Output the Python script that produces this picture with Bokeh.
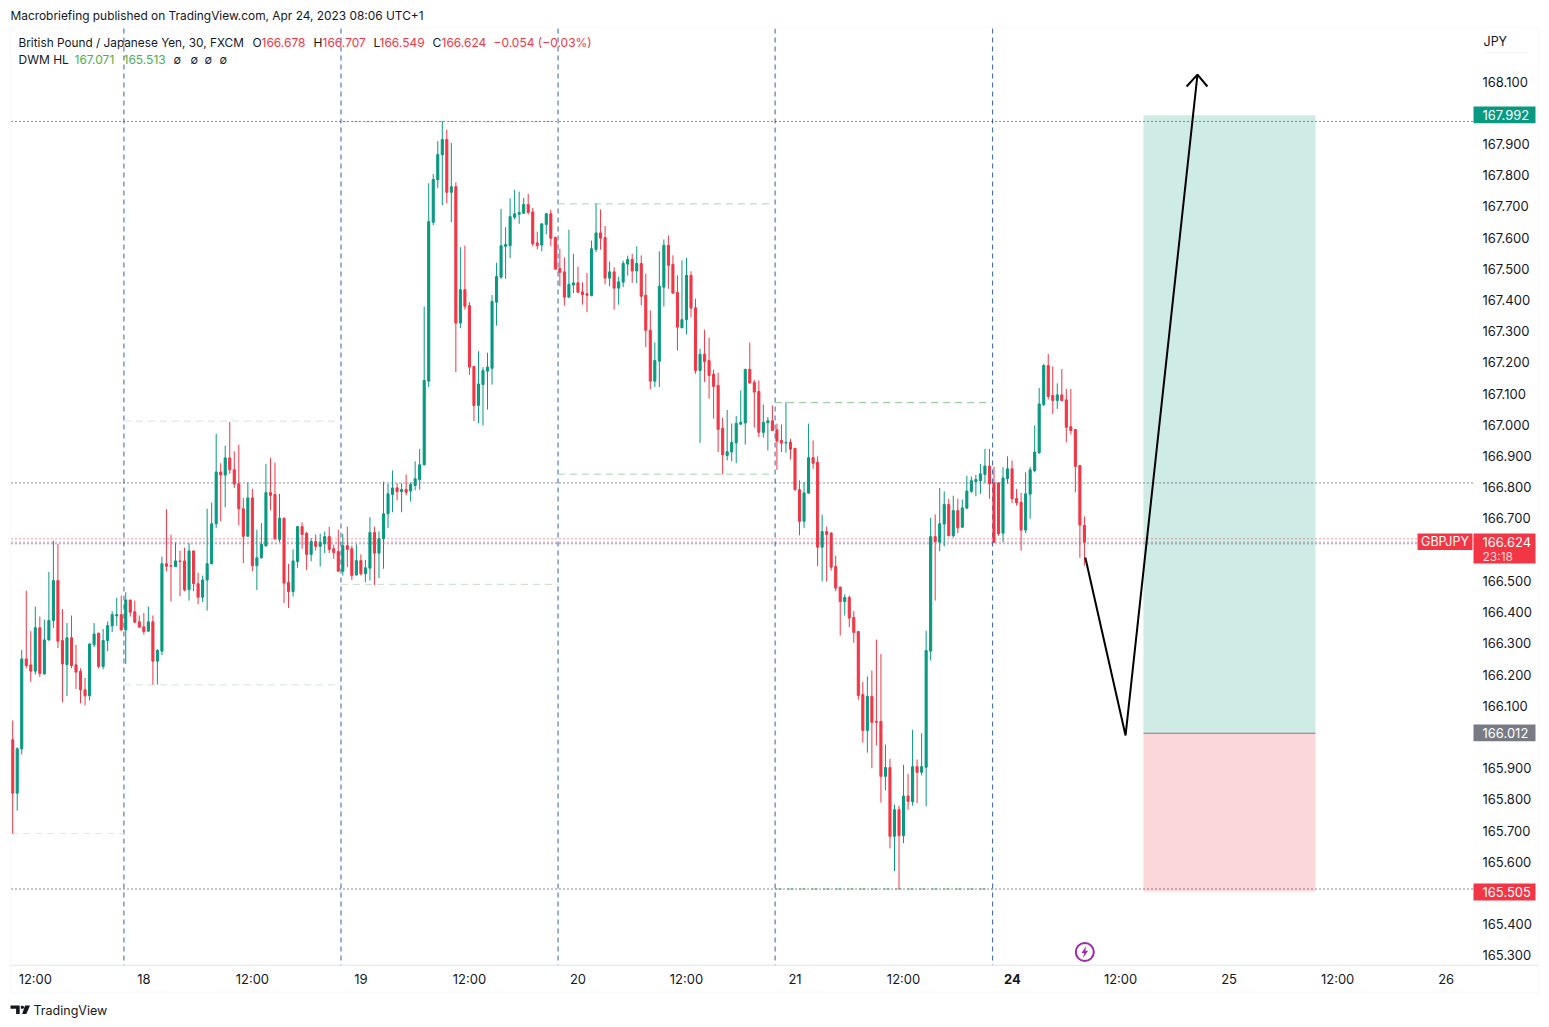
from bokeh.plotting import figure
from bokeh.models import (Range1d, LinearAxis, FixedTicker, Label, BoxAnnotation, PolyAnnotation,
                          NumeralTickFormatter)
from bokeh.embed import file_html
from bokeh.resources import INLINE

# ---- data -----------------------------------------------------------------------
opens = [
165.991,165.820,165.962,166.250,166.231,166.211,166.350,166.202,166.311,166.373,
166.501,166.309,166.232,166.318,166.231,166.210,166.151,166.132,166.296,166.333,
166.226,166.309,166.356,166.388,166.392,166.343,166.439,166.401,166.369,166.353,
166.339,166.369,166.243,166.275,166.555,166.549,166.546,166.564,166.564,166.472,
166.596,166.491,166.448,166.503,166.555,166.683,166.849,166.839,166.894,166.856,
166.811,166.731,166.643,166.766,166.549,166.574,166.612,166.783,166.777,166.633,
166.701,166.495,166.466,166.562,166.674,166.653,166.585,166.626,166.611,166.619,
166.642,166.603,166.594,166.531,166.613,166.603,166.519,166.565,166.523,166.541,
166.655,166.589,166.635,166.715,166.777,166.798,166.786,166.793,166.788,166.806,
166.825,166.872,167.140,167.649,167.785,167.865,167.914,167.745,167.763,167.326,
167.433,167.382,167.187,167.062,167.129,167.172,167.181,167.393,167.473,167.572,
167.574,167.665,167.675,167.678,167.706,167.682,167.583,167.576,167.642,167.676,
167.600,167.501,167.490,167.409,167.448,167.455,167.426,167.420,167.414,167.562,
167.615,167.600,167.470,167.490,167.438,167.457,167.515,167.530,167.493,167.517,
167.415,167.303,167.140,167.204,167.441,167.575,167.514,167.424,167.311,167.337,
167.479,167.375,167.174,167.226,167.206,167.162,167.126,166.989,166.902,166.913,
166.942,167.002,167.006,167.178,167.136,167.107,166.976,167.007,167.013,166.984,
166.950,166.942,166.944,166.925,166.792,166.691,166.781,166.895,166.880,166.608,
166.658,166.653,166.546,166.480,166.434,166.447,166.383,166.338,166.136,166.021,
166.130,166.050,166.050,165.874,165.902,165.682,165.767,165.684,165.811,165.793,
165.905,165.887,165.903,166.275,166.642,166.624,166.682,166.745,166.645,166.725,
166.672,166.733,166.787,166.818,166.821,166.841,166.868,166.814,166.814,166.653,
166.828,166.859,166.764,166.752,166.663,166.778,166.853,166.911,167.065,167.190,
167.094,167.078,167.096,167.080,166.994,166.985,166.870,166.678]
closes = [
165.820,165.962,166.250,166.229,166.211,166.350,166.204,166.311,166.373,166.501,
166.307,166.234,166.318,166.229,166.208,166.151,166.132,166.298,166.330,166.226,
166.309,166.357,166.392,166.392,166.343,166.439,166.400,166.368,166.352,166.338,
166.369,166.243,166.277,166.555,166.547,166.547,166.564,166.562,166.471,166.596,
166.491,166.448,166.503,166.555,166.683,166.849,166.839,166.894,166.856,166.811,
166.731,166.643,166.766,166.549,166.574,166.617,166.783,166.774,166.635,166.701,
166.493,166.466,166.564,166.674,166.649,166.585,166.626,166.611,166.624,166.642,
166.601,166.591,166.531,166.613,166.601,166.517,166.565,166.523,166.542,166.655,
166.589,166.635,166.715,166.779,166.798,166.786,166.793,166.784,166.809,166.827,
166.872,167.142,167.651,167.786,167.866,167.914,167.745,167.763,167.326,167.433,
167.380,167.185,167.062,167.131,167.174,167.185,167.395,167.475,167.574,167.578,
167.667,167.676,167.680,167.706,167.681,167.580,167.574,167.644,167.676,167.598,
167.499,167.489,167.409,167.450,167.455,167.425,167.417,167.415,167.564,167.615,
167.598,167.470,167.490,167.438,167.458,167.517,167.530,167.493,167.517,167.412,
167.303,167.140,167.206,167.444,167.575,167.511,167.422,167.313,167.337,167.479,
167.374,167.174,167.226,167.203,167.158,167.123,166.985,166.904,166.914,166.944,
167.005,167.008,167.178,167.134,167.105,166.976,167.008,167.013,166.982,166.948,
166.942,166.944,166.922,166.792,166.691,166.782,166.895,166.877,166.608,166.658,
166.649,166.544,166.477,166.434,166.447,166.381,166.335,166.133,166.021,166.130,
166.047,166.047,165.874,165.902,165.682,165.767,165.684,165.811,165.794,165.905,
165.887,165.905,166.277,166.642,166.626,166.683,166.745,166.645,166.725,166.670,
166.734,166.788,166.821,166.825,166.843,166.868,166.811,166.624,166.651,166.830,
166.859,166.763,166.750,166.663,166.779,166.856,166.913,167.067,167.190,167.091,
167.078,167.096,167.078,166.992,166.982,166.867,166.679,166.624]
highs = [
166.053,165.967,166.279,166.469,166.339,166.418,166.386,166.376,166.529,166.629,
166.619,166.410,166.365,166.389,166.295,166.220,166.189,166.300,166.365,166.333,
166.346,166.370,166.403,166.446,166.453,166.464,166.439,166.437,166.389,166.397,
166.418,166.389,166.282,166.578,166.730,166.648,166.624,166.597,166.606,166.621,
166.597,166.526,166.517,166.731,166.751,166.971,166.877,166.933,167.009,166.915,
166.936,166.766,166.816,166.795,166.664,166.685,166.875,166.894,166.879,166.779,
166.702,166.555,166.601,166.676,166.688,166.656,166.638,166.649,166.651,166.658,
166.674,166.616,166.664,166.651,166.674,166.613,166.617,166.585,166.567,166.704,
166.674,166.659,166.818,166.811,166.854,166.813,166.813,166.841,166.816,166.883,
166.923,167.379,167.774,167.804,167.909,167.973,167.946,167.903,167.777,167.569,
167.574,167.393,167.187,167.236,167.185,167.231,167.416,167.519,167.692,167.633,
167.726,167.753,167.747,167.727,167.740,167.695,167.619,167.644,167.679,167.689,
167.603,167.564,167.537,167.625,167.548,167.507,167.457,167.487,167.590,167.708,
167.690,167.637,167.523,167.505,167.475,167.526,167.542,167.548,167.572,167.543,
167.484,167.367,167.264,167.556,167.594,167.607,167.543,167.479,167.527,167.535,
167.492,167.404,167.244,167.305,167.279,167.177,167.167,167.023,167.048,167.004,
167.028,167.110,167.178,167.264,167.144,167.142,167.065,167.025,167.062,167.004,
167.001,167.073,166.955,166.925,166.822,166.817,167.004,166.950,166.899,166.712,
166.674,166.656,166.581,166.482,166.457,166.453,166.403,166.338,166.176,166.194,
166.213,166.312,166.266,165.976,165.930,165.783,165.780,165.911,165.882,166.023,
165.928,166.012,166.341,166.702,166.713,166.798,166.787,166.763,166.773,166.763,
166.761,166.837,166.835,166.840,166.875,166.923,166.923,166.866,166.816,166.864,
166.899,166.886,166.795,166.782,166.848,166.866,166.998,167.118,167.195,167.227,
167.187,167.133,167.179,167.115,167.115,166.987,166.870,166.707]
lows = [
165.690,165.764,165.944,166.220,166.176,166.200,166.192,166.200,166.309,166.349,
166.285,166.111,166.131,166.220,166.154,166.108,166.101,166.117,166.288,166.220,
166.217,166.275,166.336,166.356,166.341,166.234,166.386,166.365,166.350,166.328,
166.339,166.168,166.168,166.262,166.531,166.434,166.546,166.451,166.467,166.437,
166.467,166.425,166.432,166.405,166.553,166.669,166.691,166.736,166.843,166.798,
166.678,166.557,166.642,166.531,166.471,166.572,166.611,166.726,166.632,166.624,
166.429,166.413,166.450,166.542,166.603,166.535,166.563,166.597,166.546,166.589,
166.589,166.571,166.530,166.517,166.544,166.503,166.517,166.517,166.496,166.501,
166.487,166.509,166.539,166.669,166.720,166.758,166.720,166.774,166.754,166.790,
166.792,166.870,167.121,167.639,167.758,167.703,167.710,167.649,167.169,167.310,
167.369,167.160,167.012,167.006,166.998,167.049,167.129,167.318,167.468,167.468,
167.534,167.658,167.644,167.676,167.674,167.572,167.562,167.556,167.610,167.572,
167.498,167.444,167.382,167.409,167.422,167.422,167.385,167.361,167.412,167.553,
167.561,167.450,167.444,167.369,167.385,167.441,167.478,167.455,167.454,167.383,
167.249,167.114,167.121,167.121,167.379,167.436,167.420,167.238,167.310,167.290,
167.345,167.164,166.942,167.137,167.084,167.020,166.913,166.841,166.886,166.883,
166.877,167.001,166.937,167.132,166.991,166.961,166.959,166.918,166.982,166.856,
166.913,166.911,166.889,166.790,166.646,166.669,166.781,166.859,166.547,166.498,
166.498,166.533,166.467,166.325,166.389,166.352,166.302,166.119,165.982,165.950,
165.900,165.973,165.790,165.829,165.643,165.570,165.513,165.660,165.767,165.780,
165.788,165.877,165.778,166.245,166.437,166.595,166.611,166.642,166.638,166.653,
166.670,166.733,166.782,166.771,166.779,166.813,166.763,166.622,166.645,166.624,
166.811,166.749,166.741,166.597,166.653,166.699,166.848,166.907,167.060,167.081,
167.035,167.051,167.076,166.944,166.969,166.784,166.574,166.549]

price_ticks = [168.1,167.9,167.8,167.7,167.6,167.5,167.4,167.3,167.2,167.1,167.0,166.9,166.8,166.7,
               166.5,166.4,166.3,166.2,166.1,165.9,165.8,165.7,165.6,165.4,165.3]
time_ticks = [5,29,53,77,101,125,149,173,197,221,245,269,293,317]
time_labels = ["12:00","18","12:00","19","12:00","20","12:00","21","12:00","","12:00","25","12:00","26"]
session_starts = [24.6,72.6,120.6,168.6,216.7]
dwm_start = [-0.3,24.6,24.6,72.6,72.6,120.6,120.6,168.6,168.6]
dwm_end   = [24.6,72.6,72.6,120.6,120.6,168.6,168.6,216.7,216.7]
dwm_price = [165.691,167.012,166.167,167.972,166.489,167.708,166.842,167.071,165.513]
hlines_dark = [167.972,166.814,165.513]
hlines_red = [166.635,166.624]
hline_blue = [166.619]
target_price, entry_price, stop_price = 167.992, 166.012, 165.505
plan_x = [237.2,246.1,262.0]
plan_y = [166.575,166.005,168.122]
head_x = [259.6,262.0,264.2]
head_y = [168.084,168.122,168.084]
pos_left, pos_right = 250.06, 288.1

# ---- layout ---------------------------------------------------------------------
PXB, X0 = 4.522, 12.2
PXP = 312.14
def X(px): return (px-X0)/PXB
def Y(py): return 168.1-(py-81)/PXP
W, H = 1541, 1020
FL, FR, FT, FB = 11, 1473, 28, 965     # price pane, in window px
GREEN, RED = "#089981", "#f23645"
INK = "#131722"
FONT = "Inter"

p = figure(width=W, height=H, output_backend="svg", toolbar_location=None,
           x_range=Range1d(X(0),X(W)), y_range=Range1d(Y(H),Y(0)),
           x_axis_location=None, y_axis_location=None,
           min_border_left=0, min_border_right=0, min_border_top=0, min_border_bottom=0)
p.grid.visible = False
p.outline_line_color = None
p.background_fill_color = "white"

# axes, held at the pane's edges
ya = LinearAxis(ticker=FixedTicker(ticks=price_ticks), formatter=NumeralTickFormatter(format="0.000"),
                fixed_location=X(FR))
ya.axis_line_color = None; ya.major_tick_line_color = None; ya.minor_tick_line_color = None
ya.major_tick_out = 0; ya.major_label_standoff = 9
ya.major_label_text_font = FONT; ya.major_label_text_font_size = "13px"; ya.major_label_text_color = INK
p.add_layout(ya, "right")
xa = LinearAxis(ticker=FixedTicker(ticks=time_ticks), fixed_location=Y(FB),
                major_label_overrides=dict(zip(time_ticks,time_labels)))
xa.axis_line_color = None; xa.major_tick_line_color = None; xa.minor_tick_line_color = None
xa.major_tick_out = 0; xa.major_label_standoff = 5
xa.major_label_text_font = FONT; xa.major_label_text_font_size = "13px"; xa.major_label_text_color = INK
p.add_layout(xa, "below")

# lines behind candles
top, bot = Y(FT), Y(FB)
def dash(r,d):
    r.glyph.line_dash = d
    return r
dash(p.segment(session_starts,[top]*5,session_starts,[bot]*5,line_color="#2f62b0",line_width=1),[5,4])
dwm_cols = ["#e4e6e8","#dcdfe0","#d4e2d8","#c8e0cc","#c8dccc","#a8d4b0","#a8d4b0","#86c78e","#86c78e"]
dash(p.segment(dwm_start,dwm_price,dwm_end,dwm_price,line_color=dwm_cols,line_width=1),[7,5])
dash(p.segment([X(FL)]*3,hlines_dark,[X(FR)]*3,hlines_dark,line_color="#131738",line_width=1),[1,3])
dash(p.segment([X(FL)]*2,hlines_red,[X(1417)]*2,hlines_red,line_color=["#f23645","#a2337a"],line_width=1),[1,3])
dash(p.segment([X(FL)],hline_blue,[X(1417)],hline_blue,line_color="#2a3a9a",line_width=1),[1,3])

# position tool
p.quad(left=[pos_left],right=[pos_right],top=[target_price],bottom=[entry_price],fill_color=GREEN,fill_alpha=.2,line_color=None)
p.quad(left=[pos_left],right=[pos_right],top=[entry_price],bottom=[stop_price],fill_color=RED,fill_alpha=.2,line_color=None)
p.segment([pos_left],[entry_price],[pos_right],[entry_price],line_color="#787b86",line_width=1)

# candles
idx = list(range(len(opens)))
cols = [GREEN if c>o else RED for o,c in zip(opens,closes)]
p.segment(idx,highs,idx,lows,line_color=cols,line_width=1)
p.vbar(x=idx,top=[max(o,c) for o,c in zip(opens,closes)],bottom=[min(o,c) for o,c in zip(opens,closes)],
       width=0.46,fill_color=cols,line_color=cols,line_width=1)

# hand-drawn plan
p.line(plan_x,plan_y,line_color="black",line_width=2)
p.line(head_x,head_y,line_color="black",line_width=2)

# lightning marker
p.scatter([X(1084.3)],[Y(951.5)],size=18,fill_color="white",line_color="#9c27b0",line_width=2,marker="circle")
p.patch([X(v) for v in (1085.5,1081,1083.7,1082.6,1087.6,1084.8)],
        [Y(v) for v in (945.8,952.6,952.6,957.2,950.2,950.2)],fill_color="#9c27b0",line_color=None)

# frame chrome
p.add_layout(BoxAnnotation(left=X(10),right=X(1538),top=Y(27),bottom=Y(992),fill_color=None,
                           line_color="#f0f3fa",line_width=2))
p.add_layout(BoxAnnotation(left=X(10),right=X(1538),top=Y(964.2),bottom=Y(965.2),fill_color="#e0e3eb",fill_alpha=1,line_color=None))
def box(l,r,t,b,c):
    p.add_layout(BoxAnnotation(left=X(l),right=X(r),top=Y(t),bottom=Y(b),fill_color=c,fill_alpha=1,line_color=None))
def lab(px,py,text,color=INK,size="12px",align="left",style="normal"):
    p.add_layout(Label(x=X(px),y=Y(py),text=text,text_color=color,text_font=FONT,text_font_size=size,
                       text_align=align,text_baseline="middle",text_font_style=style))

box(1473,1535,106,122.7,GREEN); lab(1482,114,"167.992","white","13px")
box(1417,1472,533,549.5,RED);   lab(1444.5,541,"GBPJPY","white","12.5px","center")
box(1473,1535,533,563,RED);     lab(1482,541,"166.624","white","13px"); lab(1482,555.5,"23:18","#ffd6da","12px")
box(1473,1535,724,740.7,"#787b86"); lab(1482,732,"166.012","white","13px")
box(1473,1535,883,900,RED);     lab(1482,891,"165.505","white","13px")
lab(1483,41,"JPY",INK,"12.5px")
p.add_layout(BoxAnnotation(left=X(1484),right=X(1528),top=Y(51.5),bottom=Y(52),fill_color="#e0e3eb",fill_alpha=.7,line_color=None))
lab(1012,978.5,"24",INK,"13px","center","bold")

lab(10,15,"Macrobriefing published on TradingView.com, Apr 24, 2023 08:06 UTC+1",INK,"11.9px")
lab(18,42,"British Pound / Japanese Yen, 30, FXCM",INK,"11.8px")
for xx,t in ((252,"O"),(313,"H"),(373,"L"),(432,"C")): lab(xx,42,t,INK,"12px")
for xx,t in ((261,"166.678"),(322,"166.707"),(379,"166.549"),(441,"166.624"),(493,"\u22120.054 (\u22120.03%)")): lab(xx,42,t,RED,"12px")
lab(18,59,"DWM HL",INK,"12px")
lab(74,59,"167.071","#4caf50","12px"); lab(123,59,"165.513","#4caf50","12px")
for xx in (173,190,204,219): lab(xx,59,"\u2205",INK,"11px")

# footer logo + wordmark
lab(33,1010,"TradingView",INK,"12.5px")
def poly(xs,ys):
    p.add_layout(PolyAnnotation(xs=[X(v) for v in xs],ys=[Y(v) for v in ys],fill_color=INK,fill_alpha=1,line_color=None))
poly((10,19.2,19.2,15.6,15.6,10),(1005,1005,1013.5,1013.5,1008.3,1008.3))
poly((24.6,29.5,25.8,21.6),(1005,1005,1013.5,1013.5))
poly((20.4,22.4,23.6,23.6,22.4,20.4),(1005.3,1005.3,1006.2,1007.4,1008.3,1008.3))

open("out.html","w").write(file_html(p, INLINE))
